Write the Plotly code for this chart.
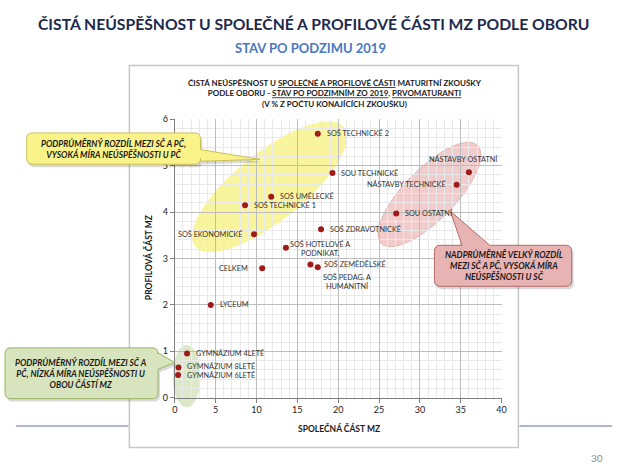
import math
import plotly.graph_objects as go

W, H = 630, 473

# ---------------- data ----------------
obory = ["SOŠ TECHNICKÉ 2", "SOU TECHNICKÉ", "SOŠ UMĚLECKÉ", "SOŠ TECHNICKÉ 1",
         "SOŠ EKONOMICKÉ", "SOŠ ZDRAVOTNICKÉ", "SOŠ HOTELOVÉ A<br>PODNIKAT.", "CELKEM",
         "SOŠ ZEMĚDĚLSKÉ", "SOŠ PEDAG. A<br>HUMANITNÍ", "LYCEUM", "NÁSTAVBY OSTATNÍ",
         "NÁSTAVBY TECHNICKÉ", "SOU OSTATNÍ", "GYMNÁZIUM 4LETÉ", "GYMNÁZIUM 8LETÉ",
         "GYMNÁZIUM 6LETÉ"]
spolecna = [17.5, 19.3, 11.8, 8.6, 9.7, 17.9, 13.6, 10.7, 16.6, 17.5, 4.4, 36.0,
            34.5, 27.1, 1.5, 0.45, 0.4]
profilova = [5.69, 4.84, 4.33, 4.15, 3.52, 3.63, 3.23, 2.79, 2.87, 2.81, 2.0, 4.86,
             4.59, 3.97, 0.95, 0.65, 0.49]

x_ticks = [0, 5, 10, 15, 20, 25, 30, 35, 40]
y_ticks = [0, 1, 2, 3, 4, 5, 6]

# label placement (anchor, xshift px, yshift px)
label_pos = {
    "SOŠ TECHNICKÉ 2": ("left", 7, 0),
    "SOU TECHNICKÉ": ("left", 7, 0),
    "SOŠ UMĚLECKÉ": ("left", 7, 0),
    "SOŠ TECHNICKÉ 1": ("left", 7, 0),
    "SOŠ EKONOMICKÉ": ("right", -10, 0),
    "SOŠ ZDRAVOTNICKÉ": ("left", 7, 0),
    "SOŠ HOTELOVÉ A<br>PODNIKAT.": ("center", 34, -1),
    "CELKEM": ("right", -12, 0),
    "SOŠ ZEMĚDĚLSKÉ": ("left", 12, 0),
    "SOŠ PEDAG. A<br>HUMANITNÍ": ("center", 29, -15),
    "LYCEUM": ("left", 7, 0),
    "NÁSTAVBY OSTATNÍ": ("center", -5, 13),
    "NÁSTAVBY TECHNICKÉ": ("right", -9, 0),
    "SOU OSTATNÍ": ("left", 7, 0),
    "GYMNÁZIUM 4LETÉ": ("left", 7, 0),
    "GYMNÁZIUM 8LETÉ": ("left", 7, 1),
    "GYMNÁZIUM 6LETÉ": ("left", 7, -1),
}

FONT = "Lato"

# plot area in pixels
PX0, PX1, PY0, PY1 = 174, 505, 116, 401


def P(x, y):
    return "%.5f,%.5f" % (x / W, 1 - y / H)


def ellipse_path(cx, cy, a, b, ang, n=72):
    t = math.radians(ang)
    pts = []
    for i in range(n):
        u = 2 * math.pi * i / n
        ex, ey = a * math.cos(u), b * math.sin(u)
        x = cx + ex * math.cos(t) - ey * math.sin(t)
        y = cy - (ex * math.sin(t) + ey * math.cos(t))
        pts.append(P(x, y))
    return "M " + " L ".join(pts) + " Z"


def callout_path(x0, y0, x1, y1, r, side, b0, b1, tip, dx=0, dy=0):
    x0 += dx; x1 += dx; y0 += dy; y1 += dy
    b0 += dy if side == "right" else dx
    b1 += dy if side == "right" else dx
    tip = (tip[0] + dx, tip[1] + dy)
    s = "M " + P(x0 + r, y0)
    if side == "top":
        s += " L " + P(b0, y0) + " L " + P(*tip) + " L " + P(b1, y0)
    s += " L " + P(x1 - r, y0) + " Q " + P(x1, y0) + " " + P(x1, y0 + r)
    if side == "right":
        s += " L " + P(x1, b0) + " L " + P(*tip) + " L " + P(x1, b1)
    s += " L " + P(x1, y1 - r) + " Q " + P(x1, y1) + " " + P(x1 - r, y1)
    s += " L " + P(x0 + r, y1) + " Q " + P(x0, y1) + " " + P(x0, y1 - r)
    s += " L " + P(x0, y0 + r) + " Q " + P(x0, y0) + " " + P(x0 + r, y0) + " Z"
    return s


fig = go.Figure()
fig.add_trace(go.Scatter(
    x=spolecna, y=profilova, mode="markers",
    marker=dict(color="#a11a1a", size=6),
    hoverinfo="skip", showlegend=False))

shapes = []
# chart box
shapes.append(dict(type="rect", xref="paper", yref="paper",
                   x0=128 / W, x1=522 / W, y0=1 - 452 / H, y1=1 - 61 / H,
                   line=dict(color="#c8c8c8", width=1.5), fillcolor="white", layer="below"))
# slide horizontal lines
shapes.append(dict(type="line", xref="paper", yref="paper",
                   x0=13 / W, x1=127 / W, y0=1 - 430 / H, y1=1 - 430 / H,
                   line=dict(color="#5b6f98", width=1.2)))
shapes.append(dict(type="line", xref="paper", yref="paper",
                   x0=523 / W, x1=617 / W, y0=1 - 430 / H, y1=1 - 430 / H,
                   line=dict(color="#5b6f98", width=1.2)))
# ellipses
shapes.append(dict(type="path", xref="paper", yref="paper", layer="between",
                   path=ellipse_path(270, 185, 97, 35, 39),
                   fillcolor="rgba(246,241,125,0.75)", line=dict(width=0)))
shapes.append(dict(type="path", xref="paper", yref="paper", layer="between",
                   path=ellipse_path(432, 193, 70, 26, 46),
                   fillcolor="rgba(234,182,182,0.70)", line=dict(color="rgba(205,140,140,0.5)", width=1)))
shapes.append(dict(type="path", xref="paper", yref="paper", layer="between",
                   path=ellipse_path(186, 379, 14, 32, 0),
                   fillcolor="rgba(210,224,185,0.75)", line=dict(width=0)))

# callouts (shadow + body)
callouts = [
    dict(box=(24, 130, 200, 162), side="right", b=(147, 159), tip=(260, 157),
         fill="#faf38a", line="#c9c056"),
    dict(box=(437, 245, 576, 287), side="top", b=(465, 493), tip=(453, 210),
         fill="#e7b3b3", line="#b56a6a"),
    dict(box=(2, 350, 157, 402), side="right", b=(355, 372), tip=(174, 365),
         fill="#d8e4bd", line="#9bb365"),
]
for c in callouts:
    x0, y0, x1, y1 = c["box"]
    shapes.append(dict(type="path", xref="paper", yref="paper", layer="above",
                       path=callout_path(x0, y0, x1, y1, 6, c["side"], c["b"][0], c["b"][1], c["tip"], 2, 3),
                       fillcolor="rgba(0,0,0,0.15)", line=dict(width=0)))
    shapes.append(dict(type="path", xref="paper", yref="paper", layer="above",
                       path=callout_path(x0, y0, x1, y1, 6, c["side"], c["b"][0], c["b"][1], c["tip"]),
                       fillcolor=c["fill"], line=dict(color=c["line"], width=1)))

ann = []
# point labels
for name, xv, yv in zip(obory, spolecna, profilova):
    anc, xs, ys = label_pos[name]
    ann.append(dict(x=xv, y=yv, xref="x", yref="y", text=name, showarrow=False,
                    xanchor=anc, yanchor="middle", xshift=xs, yshift=ys, align="center",
                    font=dict(family=FONT, size=7.3, color="#333333")))


def ptext(px, py, text, size, color, **kw):
    d = dict(x=px / W, y=1 - py / H, xref="paper", yref="paper", showarrow=False,
             text=text, font=dict(family=FONT, size=size, color=color),
             xanchor="center", yanchor="middle", align="center")
    d.update(kw)
    ann.append(d)


# slide title
ptext(314, 18, "<b>ČISTÁ NEÚSPĚŠNOST U SPOLEČNÉ A PROFILOVÉ ČÁSTI MZ PODLE OBORU</b>", 15.7, "#1d2a4d")
ptext(311, 43, "<b>STAV PO PODZIMU 2019</b>", 13, "#4a78bf")
# chart title
ptext(336, 90,
      "<b>ČISTÁ NEÚSPĚŠNOST U <u>SPOLEČNÉ A PROFILOVÉ ČÁSTI</u> MATURITNÍ ZKOUŠKY<br>"
      "PODLE OBORU - <u>STAV PO PODZIMNÍM ZO 2019</u>, <u>PRVOMATURANTI</u><br>"
      "(V % Z POČTU KONAJÍCÍCH ZKOUŠKU)</b>", 8, "#1a1a1a")
# axis titles
ptext(340, 433, "<b>SPOLEČNÁ ČÁST MZ</b>", 8.5, "#1a1a1a")
ptext(147, 258, "<b>PROFILOVÁ ČÁST MZ</b>", 8.5, "#1a1a1a", textangle=-90)
# callout texts
ptext(112, 146, "<b><i>PODPRŮMĚRNÝ ROZDÍL MEZI SČ A PČ,<br>VYSOKÁ MÍRA NEÚSPĚŠNOSTI U PČ</i></b>",
      8.5, "#1a1a1a")
ptext(507, 266, "<b><i>NADPRŮMĚRNĚ VELKÝ ROZDÍL<br>MEZI SČ A PČ, VYSOKÁ MÍRA<br>NEÚSPĚŠNOSTI U SČ</i></b>",
      8.5, "#1a1a1a")
ptext(79, 376, "<b><i>PODPRŮMĚRNÝ ROZDÍL MEZI SČ A<br>PČ, NÍZKÁ MÍRA NEÚSPĚŠNOSTI U<br>OBOU ČÁSTÍ MZ</i></b>",
      8.5, "#1a1a1a")
# page number
ptext(602, 463, "30", 10, "#8c8c8c")

fig.update_layout(
    width=W, height=H, margin=dict(l=0, r=0, t=0, b=0),
    paper_bgcolor="white", plot_bgcolor="white",
    shapes=shapes, annotations=ann, showlegend=False,
    xaxis=dict(domain=[PX0 / W, PX1 / W], range=[0, 40], tickvals=x_ticks,
               showgrid=True, gridcolor="#bdbdbd", gridwidth=1,
               minor=dict(dtick=1, showgrid=True, gridcolor="#e9e9e9", gridwidth=1),
               showline=True, linecolor="#7f7f7f", ticks="outside", ticklen=4, tickcolor="#7f7f7f",
               zeroline=False, tickfont=dict(family=FONT, size=9, color="#222222")),
    yaxis=dict(domain=[1 - PY1 / H, 1 - PY0 / H], range=[0, 6], tickvals=y_ticks,
               showgrid=True, gridcolor="#bdbdbd", gridwidth=1,
               minor=dict(dtick=0.2, showgrid=True, gridcolor="#e9e9e9", gridwidth=1),
               showline=True, linecolor="#7f7f7f", ticks="outside", ticklen=4, tickcolor="#7f7f7f",
               zeroline=False, tickfont=dict(family=FONT, size=9, color="#222222")),
)

fig.write_html("out.html")
